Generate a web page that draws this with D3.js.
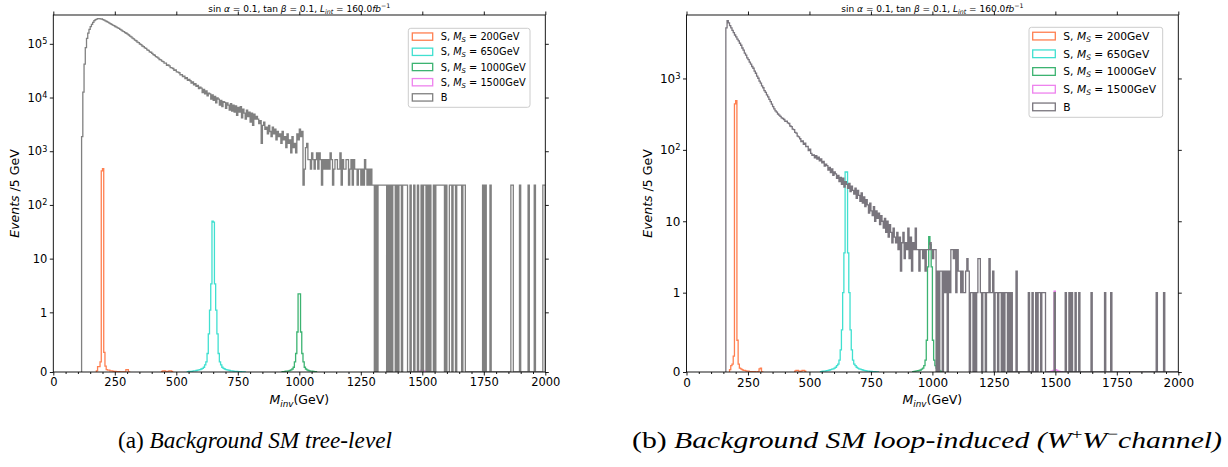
<!DOCTYPE html>
<html>
<head>
<meta charset="UTF-8">
<title>Invariant mass histograms</title>
<script src="https://cdn.jsdelivr.net/npm/d3@7"></script>
<style>
body { margin: 0; background: #fff; }
text { font-family: "DejaVu Sans", sans-serif; fill: #000; }
</style>
</head>
<body>
<svg id="fig" width="1228" height="467"></svg>
<script>
var binW = 5;
var xTicks = [0, 250, 500, 750, 1000, 1250, 1500, 1750, 2000];
var massPoints = [200, 650, 1000, 1500];
var sigColors = ["#ff7f50", "#40e0d0", "#3cb371", "#ee82ee"];

// (a) tree-level background, counts of events, each event weighs treeWeight
var treeWeight = 233;
var treeBulkStart = 115;
var treeBulk = [8, 54, 179, 366, 541, 680, 800, 898, 984, 1079,
  1156, 1211, 1239, 1268, 1262, 1253, 1244, 1211, 1190, 1151,
  1117, 1085, 1050, 1018, 990, 958, 939, 902, 880, 850,
  830, 795, 775, 742, 724, 692, 675, 648, 626, 595,
  577, 548, 530, 503, 489, 463, 451, 426, 415, 391,
  382, 360, 352, 331, 324, 303, 299,
  284, 270, 263, 248, 242, 233, 219, 216, 204, 200,
  188, 187, 171, 174, 166, 155, 153, 149, 138, 140,
  129, 127, 124, 113, 115, 105, 107, 97, 101, 90,
  93, 88, 80, 84, 74, 78, 69, 72, 63, 67,
  64, 53, 61, 50, 57, 46, 52, 50, 40, 48,
  38, 45, 34, 42, 40, 31, 38, 29, 36, 35,
  27, 34, 31, 25, 33, 24, 31, 23, 30, 20,
  28, 23, 29, 18, 26, 22, 17, 25, 19, 23,
  15, 22, 13, 21, 17, 19];
var treeMidStart = 830;
var treeMid = [17, 14, 16, 6, 13, 15, 11, 12, 9, 13,
  10, 8, 12, 9, 11, 7, 10, 8, 9, 6,
  10, 7, 8, 5, 9, 6, 7, 4, 8, 5,
  6, 4, 9, 7, 11, 8, 10, 1];
var treeTailStart = 1020;
var treeTail = [2, 5, 6, 3, 3, 2, 4, 3, 2, 3,
  4, 2, 4, 3, 1, 3, 2, 3, 2, 3,
  2, 4, 3, 1, 2, 3, 3, 2, 2, 4,
  1, 3, 2, 2, 3, 3, 1, 2, 3, 1,
  3, 2, 2, 1, 2, 2, 1, 2, 1, 3,
  2, 1, 2, 1, 2, 1];
var treeSparseStart = 1300;
var treeSparse = [1, 0, 1, 0, 1, 1, 1, 1, 1, 1,
  1, 0, 1, 0, 1, 0, 1, 1, 0, 1,
  0, 1, 1, 0, 1, 1, 1, 1, 0, 0,
  1, 0, 0, 1, 0, 0, 1, 0, 0, 1,
  0, 1, 1, 0, 1, 0, 1, 0, 0, 1,
  0, 1, 1, 1, 1, 1, 1, 1, 0, 1,
  0, 0, 1, 1, 0, 1, 1, 0, 1, 1,
  1, 1, 0, 1, 1, 0, 0, 0, 0, 0,
  0, 0, 0, 0, 0, 0, 0, 0, 0, 1,
  0, 1, 0, 0, 0, 1, 0, 0, 0, 0,
  0, 0, 0, 0, 0, 0, 0, 0, 0, 0,
  0, 0, 1, 1, 0, 0, 0, 0, 0, 1,
  0, 0, 0, 0, 0, 0, 1, 0, 0, 0,
  0, 1, 0, 0, 0, 0, 0, 0, 1, 1];

// (b) loop-induced background, unit weight
var loopBulkStart = 160;
var loopBulk = [5100, 6450, 5990, 5500, 5120, 4700, 4380, 4060, 3830, 3560,
  3350, 3110, 2920, 2670, 2490, 2270, 2120, 1940, 1830, 1690,
  1590, 1470, 1390, 1265, 1182, 1076, 1006, 915, 858, 785,
  741, 676, 640, 590, 552, 510, 474, 436,
  402, 374, 352, 338, 318, 306, 294, 281, 275, 266,
  251, 252, 238, 234, 216, 212, 195, 192, 176, 171,
  156, 152, 143, 131, 134, 119, 124, 111, 112, 98,
  102, 89, 84, 85, 77, 83, 74, 79, 70, 75,
  66, 69, 59, 63, 60, 52, 57, 48, 54, 44,
  49, 46, 40, 44, 36, 41, 33, 40, 30, 36,
  33, 29, 34, 26, 31, 27, 24, 29, 21, 27,
  23, 19, 25, 18, 22, 16, 20, 17, 13, 18,
  14, 12, 16, 10, 14, 11, 13, 9, 12, 10,
  8, 11, 7, 10, 6, 9, 7, 5, 8, 6];
var loopMidStart = 850;
var loopMid = [5, 7, 4, 6, 2, 5, 7, 3, 5, 4,
  8, 3, 6, 2, 5, 4, 8, 4, 4, 2,
  4, 4, 3, 4, 2, 4, 4, 4, 5, 4,
  3, 4, 4, 0];
var loopTailStart = 1020;
var loopTail = [2, 0, 2, 2, 0, 2, 1, 2, 0, 2,
  1, 4, 4, 3, 4, 1, 4, 2, 2, 1,
  2, 1, 1, 2, 3, 2, 0, 1, 1, 0,
  1, 0, 1, 3, 3, 1, 0, 1, 1, 0,
  1, 1, 3, 1, 1, 2, 0, 1, 1, 0,
  1, 1, 0];
var loopSparseStart = 1285;
var loopSparse = [1, 0, 1, 1, 0, 1, 0, 1, 0, 0,
  0, 2, 0, 0, 0, 0, 0, 0, 0, 0,
  0, 1, 0, 0, 1, 0, 0, 1, 0, 1,
  1, 0, 1, 1, 1, 0, 0, 0, 0, 0,
  0, 0, 1, 0, 0, 0, 0, 0, 0, 0,
  0, 1, 0, 0, 1, 0, 1, 0, 0, 1,
  0, 0, 1, 0, 0, 0, 0, 0, 0, 0,
  0, 0, 1, 0, 0, 0, 0, 0, 0, 0,
  0, 0, 0, 1, 0, 0, 0, 0, 1, 0,
  0, 0, 0, 0, 0, 0, 0, 0, 0, 0,
  0, 0, 0, 0, 0, 0, 0, 0, 0, 0,
  0, 0, 0, 0, 0, 0, 0, 0, 0, 0,
  0, 0, 0, 0, 0, 1, 0, 0, 0, 0,
  0, 1, 0, 0, 0, 0, 0, 0, 0, 0,
  0, 0, 0];

// signals, events per bin
var s200TreeStart = 175;
var s200Tree = [0.02, 0.09, 0.09, 0.17, 430, 475, 0.33, 0.1, 0.04, 0.03,
  0.03, 0.02, 0.02, 0.015, 0.01, 0.01, 0.005, 0.005, 0.004, 0.003,
  0.003, 0.002, 0.002, 0.003, 0.04, 0.04, 0.002];
var s200LoopStart = 175;
var s200Loop = [0.03, 0.08, 0.1, 0.2, 440, 490, 0.4, 0.1, 0.05, 0.04,
  0.03, 0.02, 0.02, 0.015, 0.01, 0.01, 0.005, 0.005, 0.004, 0.003,
  0.003, 0.002, 0.002, 0.003, 0.04, 0.05, 0.002];
var s200TailStart = 440;
var s200Tail = [0.01, 0.02, 0.02, 0.01, 0.005, 0.01, 0.02, 0.02, 0.01];
var s650TreeStart = 545;
var s650Tree = [0.005, 0.008, 0.01, 0.012, 0.015, 0.018, 0.02, 0.025, 0.03, 0.035,
  0.04, 0.05, 0.06, 0.08, 0.12, 0.17, 0.31, 0.64, 1.1, 3.4,
  50, 48, 3.4, 1.1, 0.64, 0.31, 0.17, 0.12, 0.08, 0.06,
  0.05, 0.04, 0.035, 0.03, 0.025, 0.02, 0.018, 0.015, 0.012, 0.01,
  0.008, 0.006, 0.005, 0.004, 0.003, 0.002, 0.002];
var s650LoopStart = 545;
var s650Loop = [0.005, 0.008, 0.01, 0.012, 0.015, 0.018, 0.02, 0.025, 0.03, 0.035,
  0.04, 0.05, 0.06, 0.08, 0.1, 0.15, 0.28, 0.53, 1.0, 3.6,
  49, 49, 3.6, 1.0, 0.53, 0.28, 0.15, 0.1, 0.08, 0.06,
  0.05, 0.04, 0.035, 0.03, 0.025, 0.02, 0.018, 0.015, 0.012, 0.01,
  0.008, 0.006, 0.005, 0.004, 0.003, 0.002, 0.002];
var s1000TreeStart = 930;
var s1000Tree = [0.005, 0.007, 0.01, 0.013, 0.016, 0.02, 0.025, 0.035, 0.05, 0.08,
  0.17, 0.31, 0.67, 2.2, 2.2, 0.67, 0.31, 0.17, 0.08, 0.05,
  0.035, 0.025, 0.02, 0.016, 0.013, 0.01, 0.007, 0.005];
var s1000LoopStart = 920;
var s1000Loop = [0.005, 0.007, 0.01, 0.013, 0.016, 0.02, 0.025, 0.035, 0.05, 0.08,
  0.15, 0.4, 2.3, 6.1, 4.7, 2.3, 0.4, 0.15, 0.08, 0.05,
  0.03, 0.02, 0.01, 0.007, 0.005];
var s1500TreeStart = 1470;
var s1500Tree = [0.003, 0.005, 0.008, 0.012, 0.02, 0.03, 0.03, 0.02, 0.012, 0.008, 0.005, 0.003];
var s1500LoopStart = 1470;
var s1500Loop = [0.003, 0.005, 0.008, 0.012, 0.02, 1.05, 0.03, 0.02, 0.012, 0.008, 0.005, 0.003];

function hist(start, vals, w) {
  return vals.map(function(v, i) { return {x0: start + i * binW, v: v * (w || 1)}; });
}

// symlog, linthresh 1, linscale 1 (same as matplotlib)
function symT(v) { return v <= 1 ? v / 0.9 : 1 / 0.9 + Math.log10(v); }

var panels = [
  { id: "a", x0: 53.3, x1: 545.3, top: 15, bottom: 372, ymax: 3.44e5,
    yTicks: [0, 1, 10, 1e2, 1e3, 1e4, 1e5], tickFont: 11.5, ylabX: 15,
    bg: [].concat(hist(treeBulkStart, treeBulk, treeWeight), hist(treeMidStart, treeMid, treeWeight),
                  hist(treeTailStart, treeTail, treeWeight), hist(treeSparseStart, treeSparse, treeWeight)),
    bgColor: "#808080",
    sig: [[hist(s200TreeStart, s200Tree), hist(s200TailStart, s200Tail)], [hist(s650TreeStart, s650Tree)],
          [hist(s1000TreeStart, s1000Tree)], [hist(s1500TreeStart, s1500Tree)]],
    leg: {x: 408.3, y: 28.3, w: 121.7, h: 79, first: 8.3, row: 15.2, px: 412.3, pw: 20.4, ph: 7.3, tx: 440.7, fs: 9.8} },
  { id: "b", x0: 686.5, x1: 1178.3, top: 15, bottom: 372, ymax: 7740,
    yTicks: [0, 1, 10, 1e2, 1e3], tickFont: 12, ylabX: 648,
    bg: [].concat(hist(loopBulkStart, loopBulk), hist(loopMidStart, loopMid),
                  hist(loopTailStart, loopTail), hist(loopSparseStart, loopSparse)),
    bgColor: "#79757d",
    sig: [[hist(s200LoopStart, s200Loop), hist(s200TailStart, s200Tail)], [hist(s650LoopStart, s650Loop)],
          [hist(s1000LoopStart, s1000Loop)], [hist(s1500LoopStart, s1500Loop)]],
    leg: {x: 1029, y: 27.3, w: 133.7, h: 90, first: 8.8, row: 17.7, px: 1032.7, pw: 22.6, ph: 7.7, tx: 1063.3, fs: 10.7} }
];

var fig = d3.select("#fig");

function stepPts(b) {
  var pts = [[b[0].x0, 0]];
  b.forEach(function(d) { pts.push([d.x0, d.v]); pts.push([d.x0 + binW, d.v]); });
  pts.push([b[b.length - 1].x0 + binW, 0]);
  return pts;
}

function drawPanel(p) {
  var g = fig.append("g");
  var x = d3.scaleLinear().domain([0, 2000]).range([p.x0, p.x1]);
  var y = d3.scaleLinear().domain([0, symT(p.ymax)]).range([p.bottom, p.top]);
  var line = d3.line().x(function(d) { return x(d[0]); }).y(function(d) { return y(symT(d[1])); });

  g.append("clipPath").attr("id", "clip" + p.id).append("rect")
    .attr("x", p.x0).attr("y", p.top).attr("width", p.x1 - p.x0).attr("height", p.bottom - p.top);
  var plot = g.append("g").attr("clip-path", "url(#clip" + p.id + ")");
  // signals first, background drawn over them
  p.sig.forEach(function(segs, k) {
    segs.forEach(function(s) {
      plot.append("path").attr("d", line(stepPts(s)))
        .attr("fill", "none").attr("stroke", sigColors[k]).attr("stroke-width", 1.3);
    });
  });
  plot.append("path").attr("d", line(stepPts(p.bg)))
    .attr("fill", "none").attr("stroke", p.bgColor).attr("stroke-width", 1.3);

  // axes
  var bx = g.append("g").attr("transform", "translate(0," + p.bottom + ")")
    .call(d3.axisBottom(x).tickValues(xTicks).tickSize(3.5).tickPadding(2.5).tickFormat(d3.format("d")));
  bx.attr("font-size", p.tickFont).attr("font-family", null);
  var mx = g.append("g").attr("transform", "translate(0," + p.bottom + ")")
    .call(d3.axisBottom(x).tickValues(d3.range(50, 2000, 50).filter(function(v) { return v % 250; }))
      .tickSize(2).tickFormat(""));
  var tx = g.append("g").attr("transform", "translate(0," + p.top + ")")
    .call(d3.axisTop(x).tickValues(xTicks).tickSize(3.5).tickFormat(""));
  var ly = g.append("g").attr("transform", "translate(" + p.x0 + ",0)")
    .call(d3.axisLeft(y).tickValues(p.yTicks.map(symT)).tickSize(3.5).tickPadding(2.5)
      .tickFormat(function(d, i) { return p.yTicks[i] < 100 ? String(p.yTicks[i]) : "10"; }));
  ly.attr("font-size", p.tickFont).attr("font-family", null);
  ly.selectAll(".tick text").each(function(d, i) {
    var v = p.yTicks[i];
    if (v >= 100) {
      d3.select(this).append("tspan").attr("dy", "-0.45em").attr("font-size", p.tickFont * 0.7)
        .text(Math.round(Math.log10(v)));
    }
  });
  var ry = g.append("g").attr("transform", "translate(" + p.x1 + ",0)")
    .call(d3.axisRight(y).tickValues(p.yTicks.map(symT)).tickSize(3.5).tickFormat(""));
  [bx, mx, tx, ly, ry].forEach(function(a) {
    a.select(".domain").remove();
    a.selectAll(".tick line").attr("stroke", "#000").attr("stroke-width", 0.9);
  });
  g.append("rect").attr("x", p.x0).attr("y", p.top).attr("width", p.x1 - p.x0).attr("height", p.bottom - p.top)
    .attr("fill", "none").attr("stroke", "#000").attr("stroke-width", 0.9);

  var cx = (p.x0 + p.x1) / 2;
  // title
  var t = g.append("text").attr("x", cx).attr("y", 11.5).attr("text-anchor", "middle").attr("font-size", 9);
  t.append("tspan").text("sin");
  t.append("tspan").attr("font-style", "italic").text(" \u03b1");
  t.append("tspan").text(" = 0.1,  tan");
  t.append("tspan").attr("font-style", "italic").text(" \u03b2");
  t.append("tspan").text(" = 0.1,  ");
  t.append("tspan").attr("font-style", "italic").text("L");
  t.append("tspan").attr("font-style", "italic").attr("font-size", 6.3).attr("dy", 2).text("int");
  t.append("tspan").attr("dy", -2).text(" = 160.0");
  t.append("tspan").attr("font-style", "italic").text("fb");
  t.append("tspan").attr("font-size", 6.3).attr("dy", -3.5).text("\u22121");

  // x label
  var xl = g.append("text").attr("x", cx).attr("y", 404).attr("text-anchor", "middle").attr("font-size", 12.5);
  xl.append("tspan").attr("font-style", "italic").text("M");
  xl.append("tspan").attr("font-style", "italic").attr("font-size", 8.8).attr("dy", 2.5).text("inv");
  xl.append("tspan").attr("dy", -2.5).text("(GeV)");

  // y label
  var yl = g.append("text").attr("transform", "translate(" + p.ylabX + "," + ((p.top + p.bottom) / 2) + ") rotate(-90)")
    .attr("text-anchor", "middle").attr("dy", "0.35em").attr("font-size", 12.5);
  yl.append("tspan").attr("font-style", "italic").text("Events");
  yl.append("tspan").text(" /5 GeV");

  // legend
  var L = p.leg;
  var lg = g.append("g");
  lg.append("rect").attr("x", L.x).attr("y", L.y).attr("width", L.w).attr("height", L.h).attr("rx", 2.5)
    .attr("fill", "#fff").attr("fill-opacity", 0.8).attr("stroke", "#cccccc").attr("stroke-width", 1);
  var names = massPoints.map(String).concat(["B"]);
  var cols = sigColors.concat([p.bgColor]);
  names.forEach(function(nm, i) {
    var cy = L.y + L.first + i * L.row;
    lg.append("rect").attr("x", L.px).attr("y", cy - L.ph / 2).attr("width", L.pw).attr("height", L.ph)
      .attr("fill", "none").attr("stroke", cols[i]).attr("stroke-width", 1.3);
    var tt = lg.append("text").attr("x", L.tx).attr("y", cy + L.fs * 0.36).attr("font-size", L.fs);
    if (nm === "B") { tt.text("B"); return; }
    tt.append("tspan").text("S, ");
    tt.append("tspan").attr("font-style", "italic").text("M");
    tt.append("tspan").attr("font-style", "italic").attr("font-size", L.fs * 0.7).attr("dy", 2).text("S");
    tt.append("tspan").attr("dy", -2).text(" = " + nm + "GeV");
  });
}

panels.forEach(drawPanel);

// captions
var capFont = "'Liberation Serif', 'Times New Roman', serif";
var capA = fig.append("text").attr("x", 118).attr("y", 448).attr("font-size", 23)
  .attr("textLength", 274).attr("lengthAdjust", "spacingAndGlyphs").style("font-family", capFont);
capA.append("tspan").text("(a) ");
capA.append("tspan").attr("font-style", "italic").text("Background SM tree-level");
var capB = fig.append("text").attr("x", 632).attr("y", 448).attr("font-size", 23)
  .attr("textLength", 590).attr("lengthAdjust", "spacingAndGlyphs").style("font-family", capFont);
capB.append("tspan").text("(b) ");
capB.append("tspan").attr("font-style", "italic").text("Background SM loop-induced (W");
capB.append("tspan").attr("font-size", 15).attr("dy", -9).text("+");
capB.append("tspan").attr("font-style", "italic").attr("dy", 9).text("W");
capB.append("tspan").attr("font-size", 15).attr("dy", -9).text("\u2212");
capB.append("tspan").attr("font-style", "italic").attr("dy", 9).text("channel)");
</script>
</body>
</html>
